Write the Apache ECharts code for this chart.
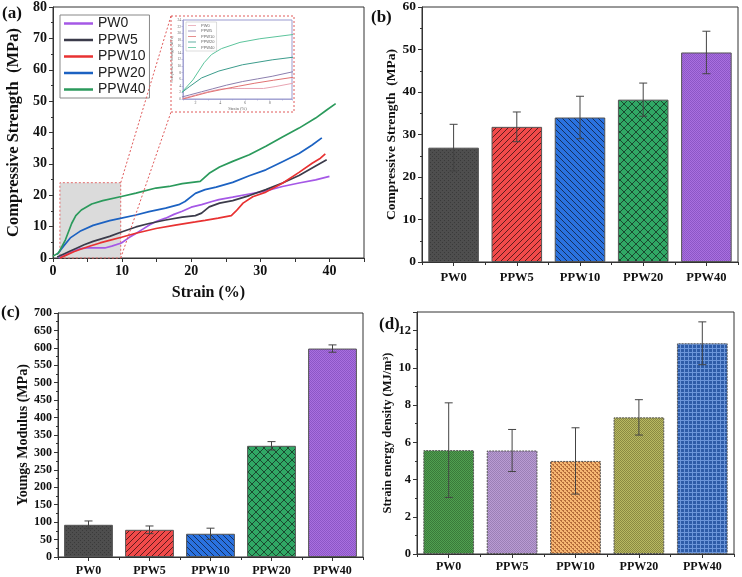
<!DOCTYPE html>
<html><head><meta charset="utf-8">
<script src="https://cdn.jsdelivr.net/npm/echarts@6/dist/echarts.min.js"></script>
<style>html,body{margin:0;padding:0;background:#fff}#c{width:742px;height:577px}</style>
</head><body><div id="c"></div>
<script>
// ---------- DATA ----------
const seriesNames = ['PW0', 'PPW5', 'PPW10', 'PPW20', 'PPW40'];
// stress-strain curves: [strain %, stress MPa]
const pw0Curve = [[0.8,0],[2,1.2],[3,2.2],[4,3.0],[5,3.2],[6,3.2],[7.5,3.2],[8.5,3.8],[9.9,4.8],[11,6.5],[12,7.8],[13,9.2],[14,10.6],[15,11.7],[16.3,12.7],[17.5,13.9],[18.7,14.9],[20,16.2],[21.5,17],[23,18],[24,18.6],[26,19.4],[28.4,20.4],[30.8,21.4],[33.2,22.8],[35.6,23.9],[38,24.9],[40,26]];
const ppw5Curve = [[0.6,0.3],[1.5,1.2],[2.5,2.2],[3.4,3.1],[4.5,4.2],[5.8,5.3],[7,6.1],[8.2,6.9],[9.9,8.3],[12,9.9],[13.9,11],[16.3,12.1],[18.7,13],[20.6,13.5],[21.5,14.3],[22.6,16.3],[24.1,17.5],[26,18.3],[28.4,19.9],[30.8,21.8],[33.2,23.9],[35.6,26.3],[38,29.3],[39.6,31.3]];
const ppw10Curve = [[1.0,0],[2,1.0],[3,2.0],[4.4,3.1],[5.5,3.9],[6.8,4.8],[8.3,5.7],[9.9,6.6],[12,7.9],[14.9,9.4],[17.7,10.5],[20.6,11.5],[22,12],[23.9,12.7],[25.8,13.5],[26.5,15],[27.5,17.5],[28.9,19.5],[30.8,21],[33.2,23.8],[35.6,27.3],[37.5,30.2],[38.7,31.8],[39.4,33.2]];
const ppw20Curve = [[0.6,1.1],[1.5,3.7],[2.5,6.4],[3.9,8.5],[5.8,10.4],[8.2,11.9],[9.9,12.7],[12,13.7],[13.9,14.8],[16.3,15.9],[18.2,17],[19.1,18],[20.6,20.6],[22,21.8],[23.6,22.6],[26,24.1],[28.4,26.2],[30.8,28.1],[33.2,30.7],[35.6,33.3],[37.5,36],[38.9,38.3]];
const ppw40Curve = [[0,0.6],[0.8,1.6],[1.8,5.8],[2.7,11],[3.3,13.5],[4.1,15.3],[5.6,17.2],[7.2,18.3],[9.9,19.6],[12,20.7],[14.9,22.3],[16.8,22.8],[18.7,23.7],[21.3,24.4],[22.6,27],[24.1,29],[26,30.8],[28.4,32.9],[30.8,35.6],[33.2,38.6],[35.6,41.4],[38,44.6],[39.5,47],[40.9,49.2]];
const zoomBox = [[1, 0], [9.8, 24]]; // shaded region [strain, stress]

const categories = ['PW0', 'PPW5', 'PPW10', 'PPW20', 'PPW40'];
const compStrength = [26.9, 31.8, 34.0, 38.2, 49.3];
const compStrengthErr = [5.5, 3.5, 5.0, 3.9, 5.0];
const youngsModulus = [92.4, 78, 66.7, 319, 598];
const youngsModulusErr = [11, 11, 16, 12, 10.5];
const strainEnergy = [5.58, 5.56, 5.0, 7.34, 11.32];
const strainEnergyErr = [2.54, 1.13, 1.78, 0.95, 1.15];

// ---------- STYLE ----------
const curves = [pw0Curve, ppw5Curve, ppw10Curve, ppw20Curve, ppw40Curve];
const lineColors = ['#a558e6', '#3b3b4a', '#e83232', '#1c62c2', '#2b9a5c'];
const insetColors = ['#e8a4b2', '#8c7fae', '#e07272', '#3c9c8c', '#5cc49c'];
const SERIF = 'Liberation Serif';
const SANS = 'Liberation Sans';
const AX = '#333';

function pattern(base, fg, type, s) {
  const c = document.createElement('canvas');
  c.width = s; c.height = s;
  const g = c.getContext('2d');
  g.fillStyle = base; g.fillRect(0, 0, s, s);
  g.strokeStyle = fg; g.fillStyle = fg; g.lineWidth = 1;
  if (type === 'diagR' || type === 'cross') {
    g.beginPath();
    g.moveTo(-1, s + 1); g.lineTo(s + 1, -1);
    g.moveTo(-1, 1); g.lineTo(1, -1);
    g.moveTo(s - 1, s + 1); g.lineTo(s + 1, s - 1);
    g.stroke();
  }
  if (type === 'diagL' || type === 'cross') {
    g.beginPath();
    g.moveTo(-1, -1); g.lineTo(s + 1, s + 1);
    g.moveTo(s - 1, -1); g.lineTo(s + 1, 1);
    g.moveTo(-1, s - 1); g.lineTo(1, s + 1);
    g.stroke();
  }
  if (type === 'dots') { g.fillRect(0, 0, 1, 1); g.fillRect(2, 2, 1, 1); }
  if (type === 'checker') { g.fillRect(0, 0, 1, 1); g.fillRect(1, 1, 1, 1); }
  if (type === 'tri') { g.fillRect(0, 0, 2, 1); g.fillRect(1, 1, 1, 1); g.fillRect(2, 2, 2, 1); g.fillRect(3, 3, 1, 1); }
  if (type === 'grid') { g.fillRect(0, 0, s, 1); g.fillRect(0, 0, 1, s); }
  return { image: c, repeat: 'repeat' };
}
const barFillsBC = [
  pattern('#4e4e4e', '#3a3a3a', 'dots', 4),
  pattern('#f24a4a', '#5e1c1c', 'diagR', 6),
  pattern('#2a72e0', '#16305e', 'diagL', 6),
  pattern('#30a865', '#1b4a30', 'cross', 8),
  pattern('#a96fe0', '#8c56c6', 'checker', 2)
];
const barFillsD = [
  pattern('#50a050', '#3a7a3a', 'checker', 2),
  pattern('#b99bd3', '#9b80b6', 'checker', 2),
  pattern('#f6b772', '#b46c3a', 'tri', 4),
  pattern('#b9b962', '#8a8a42', 'checker', 2),
  pattern('#2e5ca8', '#6c96da', 'grid', 4)
];

// ---------- LAYOUT ----------
const gA = { left: 53, top: 7, width: 311, height: 251 };
const gIn = { left: 183, top: 20, width: 109, height: 79 };
const insetBox = { x: 171, y: 16, w: 123, h: 96 };
const gB = { left: 422, top: 7, width: 316, height: 255 };
const gC = { left: 58, top: 313, width: 305, height: 245 };
const gD = { left: 417, top: 312, width: 317, height: 242 };

function frame(g, color) { return Object.assign({ show: true, borderColor: color || AX, borderWidth: 1, containLabel: false }, g); }
function lbl(size, extra) { return Object.assign({ fontFamily: SERIF, fontWeight: 'bold', fontSize: size, color: '#111' }, extra || {}); }

function valueY(gi, min, max, interval, name, nameSize, nameGap, labelSize, extra) {
  return Object.assign({
    type: 'value', gridIndex: gi, min, max, interval,
    name, nameLocation: 'middle', nameGap, nameTextStyle: lbl(nameSize),
    axisLine: { show: true, lineStyle: { color: AX, width: 1 } },
    axisTick: { show: true, inside: false, length: 4, lineStyle: { color: AX } },
    minorTick: { show: true, splitNumber: 2, length: 2, lineStyle: { color: AX } },
    axisLabel: lbl(labelSize, { margin: 6 }),
    splitLine: { show: false }
  }, extra || {});
}
function catX(gi, labelSize, margin) {
  return [{
    type: 'category', gridIndex: gi, data: categories, position: 'bottom',
    axisLine: { show: true, lineStyle: { color: AX } },
    axisTick: { show: true, alignWithLabel: true, length: 4, lineStyle: { color: AX } },
    axisLabel: lbl(labelSize, { margin, interval: 0 })
  }, {
    type: 'category', gridIndex: gi, data: categories, position: 'bottom',
    axisLine: { show: false },
    axisTick: { show: true, alignWithLabel: false, length: 3, lineStyle: { color: AX } },
    axisLabel: { show: false }
  }];
}
function errRender(capHalf) {
  return function (params, api) {
    const x = api.value(0), v = api.value(1), e = api.value(2);
    const t = api.coord([x, v + e]), b = api.coord([x, v - e]);
    const st = { stroke: '#444', lineWidth: 1 };
    return { type: 'group', children: [
      { type: 'line', shape: { x1: t[0], y1: t[1], x2: b[0], y2: b[1] }, style: st },
      { type: 'line', shape: { x1: t[0] - capHalf, y1: t[1], x2: t[0] + capHalf, y2: t[1] }, style: st },
      { type: 'line', shape: { x1: b[0] - capHalf, y1: b[1], x2: b[0] + capHalf, y2: b[1] }, style: st }
    ]};
  };
}
function barSeries(xi, yi, vals, fills, dashedBorder) {
  return {
    type: 'bar', xAxisIndex: xi, yAxisIndex: yi, barCategoryGap: '20%',
    data: vals.map((v, i) => ({ value: v, itemStyle: { color: fills[i] } })),
    itemStyle: { borderColor: '#555', borderWidth: 1, borderType: dashedBorder ? [2, 1] : 'solid' },
    silent: true
  };
}
function errSeries(xi, yi, vals, errs, cap) {
  return {
    type: 'custom', xAxisIndex: xi, yAxisIndex: yi, z: 10, silent: true,
    renderItem: errRender(cap), encode: { x: 0, y: 1 },
    data: vals.map((v, i) => [i, v, errs[i]])
  };
}

const series = [];
curves.forEach((d, i) => {
  const s = {
    type: 'line', name: seriesNames[i], xAxisIndex: 0, yAxisIndex: 0, data: d,
    symbol: 'none', lineStyle: { color: lineColors[i], width: 1.7 }, itemStyle: { color: lineColors[i] },
    z: 3, silent: true
  };
  if (i === 0) {
    s.markArea = {
      silent: true,
      itemStyle: { color: 'rgba(195,195,195,0.6)', borderColor: '#e06a6a', borderWidth: 1, borderType: [2, 2] },
      data: [[{ coord: zoomBox[0] }, { coord: zoomBox[1] }]]
    };
  }
  series.push(s);
});
curves.forEach((d, i) => {
  series.push({
    type: 'line', name: 'inset-' + seriesNames[i], xAxisIndex: 1, yAxisIndex: 1, data: d,
    symbol: 'none', lineStyle: { color: insetColors[i], width: 1 }, itemStyle: { color: insetColors[i] },
    silent: true, clip: true
  });
});
series.push(barSeries(2, 2, compStrength, barFillsBC, false));
series.push(errSeries(2, 2, compStrength, compStrengthErr, 4));
series.push(barSeries(4, 3, youngsModulus, barFillsBC, false));
series.push(errSeries(4, 3, youngsModulus, youngsModulusErr, 4));
series.push(barSeries(6, 4, strainEnergy, barFillsD, true));
series.push(errSeries(6, 4, strainEnergy, strainEnergyErr, 4));

const inCol = '#9b9bcf';
const option = {
  animation: false,
  backgroundColor: '#fff',
  grid: [frame(gA), frame(gIn, inCol), frame(gB), frame(gC), frame(gD)],
  legend: [{
    data: seriesNames, orient: 'vertical', left: 60, top: 15,
    icon: 'rect', itemWidth: 29, itemHeight: 2.5, itemGap: 2.5, padding: [1.5, 4],
    backgroundColor: '#fff', borderColor: '#888', borderWidth: 1,
    textStyle: { fontFamily: SANS, fontSize: 14, color: '#222', lineHeight: 14, height: 14 },
    selectedMode: false
  }, {
    data: seriesNames.map(n => 'inset-' + n), orient: 'vertical', left: 186, top: 22,
    icon: 'rect', itemWidth: 8, itemHeight: 0.8, itemGap: 0.5, padding: [1, 2],
    backgroundColor: '#fff', borderColor: '#bbb', borderWidth: 0.5,
    formatter: n => n.replace('inset-', ''),
    textStyle: { fontFamily: SANS, fontSize: 4, color: '#666', lineHeight: 5, height: 5 },
    selectedMode: false
  }],
  xAxis: [
    {
      type: 'value', gridIndex: 0, min: 0, max: 45, interval: 5,
      name: 'Strain (%)', nameLocation: 'middle', nameGap: 27, nameTextStyle: lbl(16),
      axisLine: { show: true, onZero: false, lineStyle: { color: AX } },
      axisTick: { show: true, length: 4, lineStyle: { color: AX } },
      axisLabel: lbl(14, { margin: 6, formatter: v => (v % 10 === 0 ? String(v) : '') }),
      splitLine: { show: false }
    },
    {
      type: 'value', gridIndex: 1, min: zoomBox[0][0], max: zoomBox[1][0], interval: 1,
      name: 'Strain (%)', nameLocation: 'middle', nameGap: 6,
      nameTextStyle: { fontFamily: SERIF, fontSize: 4.5, color: '#666' },
      axisLine: { show: true, onZero: false, lineStyle: { color: inCol, width: 0.8 } },
      axisTick: { show: true, length: 1.5, lineStyle: { color: inCol, width: 0.6 } },
      axisLabel: { fontFamily: SERIF, fontSize: 4, color: '#666', margin: 2, formatter: v => (v % 2 === 0 ? String(v) : '') },
      splitLine: { show: false }
    },
    ...catX(2, 12.5, 9),
    ...catX(3, 12, 8),
    ...catX(4, 12, 7)
  ],
  yAxis: [
    valueY(0, 0, 80, 10, 'Compressive Strength  (MPa)', 16.5, 31, 14, { axisLine: { show: true, onZero: false, lineStyle: { color: AX } } }),
    {
      type: 'value', gridIndex: 1, min: zoomBox[0][1], max: zoomBox[1][1], interval: 2,
      name: 'Compressive Strength (MPa)', nameLocation: 'middle', nameGap: 8,
      nameTextStyle: { fontFamily: SERIF, fontSize: 4, color: '#666' },
      axisLine: { show: true, lineStyle: { color: inCol, width: 0.8 } },
      axisTick: { show: true, length: 1.5, lineStyle: { color: inCol, width: 0.6 } },
      axisLabel: { fontFamily: SERIF, fontSize: 3.5, color: '#666', margin: 2 },
      splitLine: { show: false }
    },
    valueY(2, 0, 60, 10, 'Compressive Strength  (MPa)', 13.5, 22, 13.5),
    valueY(3, 0, 700, 50, 'Youngs Modulus (MPa)', 14, 26, 12),
    valueY(4, 0, 13, 2, 'Strain energy density (MJ/m\u00b3)', 12.5, 21, 12.5, {
      axisLabel: lbl(12.5, { margin: 6, showMaxLabel: false })
    })
  ],
  series,
  graphic: [
    { type: 'text', left: 2, top: 5, style: { text: '(a)', font: 'bold 17px "Liberation Serif"', fill: '#111' } },
    { type: 'text', left: 371, top: 9, style: { text: '(b)', font: 'bold 17px "Liberation Serif"', fill: '#111' } },
    { type: 'text', left: 1, top: 304, style: { text: '(c)', font: 'bold 17px "Liberation Serif"', fill: '#111' } },
    { type: 'text', left: 379, top: 316, style: { text: '(d)', font: 'bold 17px "Liberation Serif"', fill: '#111' } },
    { type: 'rect', id: 'insetBox', shape: { x: insetBox.x, y: insetBox.y, width: insetBox.w, height: insetBox.h },
      style: { fill: 'none', stroke: '#e05a5a', lineWidth: 1, lineDash: [2, 2] }, z: 20, silent: true }
  ]
};

const chart = echarts.init(document.getElementById('c'), null, { renderer: 'canvas' });
chart.setOption(option);
// connector lines from shaded region corners to the inset box
const pTop = chart.convertToPixel({ xAxisIndex: 0, yAxisIndex: 0 }, [zoomBox[1][0], zoomBox[1][1]]);
const pBot = chart.convertToPixel({ xAxisIndex: 0, yAxisIndex: 0 }, [zoomBox[1][0], zoomBox[0][1]]);
const dash = { stroke: '#e05a5a', lineWidth: 1, lineDash: [2, 2] };
chart.setOption({ graphic: [
  { type: 'line', id: 'conn1', shape: { x1: pTop[0], y1: pTop[1], x2: insetBox.x, y2: insetBox.y }, style: dash, z: 20, silent: true },
  { type: 'line', id: 'conn2', shape: { x1: pBot[0], y1: pBot[1], x2: insetBox.x, y2: insetBox.y + insetBox.h }, style: dash, z: 20, silent: true }
] });
</script>
</body></html>
